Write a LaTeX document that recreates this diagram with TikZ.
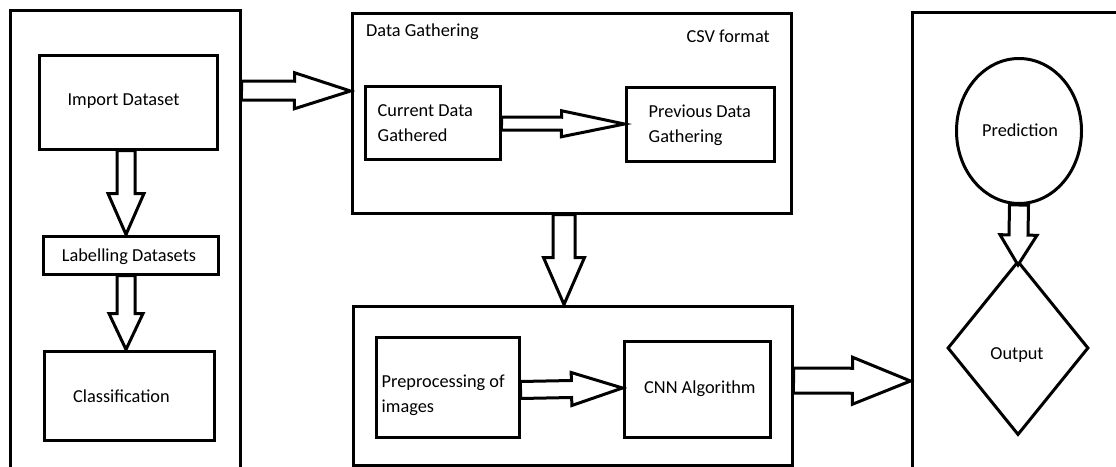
\documentclass[tikz,border=0pt]{standalone}
\usepackage{fontspec}
\setmainfont{Carlito}
\usetikzlibrary{calc,shapes.geometric}
\tikzset{
  box/.style={draw, line width=3pt, inner sep=0pt, minimum width=#1},
  txt/.style={inner sep=0pt, align=left, font=\fontsize{18.3}{25}\selectfont},
  hollow/.style={draw, line width=3pt, fill=white, line join=miter},
}
\newcommand\harr[5]{%
  \coordinate (hs) at (#1);
  \coordinate (he) at (#2);
  \coordinate (hb) at ($(he)!#5!(hs)$);
  \draw[hollow] ($(hs)!#3!90:(he)$) -- ($(hb)!#3!90:(he)$) -- ($(hb)!#4!90:(he)$) -- (he)
     -- ($(hb)!#4!-90:(he)$) -- ($(hb)!#3!-90:(he)$) -- ($(hs)!#3!-90:(he)$) -- cycle;}
\begin{document}
\begin{tikzpicture}[x=1pt,y=-1pt]
\fill[white] (0,0) rectangle (1116,466);
\useasboundingbox (0,0) rectangle (1116,466);
% outer boxes
\node[box=230pt, minimum height=465pt] (leftbox) at (125,242.5) {};
\node[box=439pt, minimum height=200pt] (gather) at (571.5,113) {};
\node[box=439pt, minimum height=159pt] (proc) at (572.5,385.5) {};
\node[box=213pt, minimum height=463pt] (rightbox) at (1018.5,243.5) {};
% left column
\node[box=178pt, minimum height=94pt] (import) at (128,102) {};
\node[txt] (importt) at (123.5,101.5) {Import Dataset};
\node[box=175pt, minimum height=38pt] (label) at (130.5,255) {};
\node[txt] (labelt) at (129,257) {Labelling Datasets};
\node[box=170pt, minimum height=89pt] (class) at (129,395.5) {};
\node[txt] (classt) at (121.5,396) {Classification};
% middle top
\node[txt, anchor=west] (dg) at (366,32) {Data Gathering};
\node[txt, anchor=east] (csv) at (770,36) {CSV format};
\node[box=135pt, minimum height=73pt] (cur) at (432.5,122.5) {};
\node[txt, anchor=west] (curt) at ($(cur.west)+(14,1)$) {Current Data\\Gathered};
\node[box=148pt, minimum height=74pt] (prev) at (700,124) {};
\node[txt, anchor=west] (prevt) at ($(prev.west)+(24,1)$) {Previous Data\\Gathering};
% middle bottom
\node[box=143pt, minimum height=100pt] (pre) at (447.5,387) {};
\node[txt, anchor=west] (pret) at ($(pre.west)+(7,8)$) {Preprocessing of\\images};
\node[box=146pt, minimum height=96pt] (cnn) at (697,389) {};
\node[txt, anchor=west] (cnnt) at (644,389) {CNN Algorithm};
% right column
\node[ellipse, draw, line width=3pt, inner sep=0pt, minimum width=125pt, minimum height=145pt] (pred) at (1019,131) {};
\node[txt] (predt) at (1020,130) {Prediction};
\node[diamond, draw, line width=3pt, inner sep=0pt, minimum width=141pt, minimum height=174pt] (out) at (1018,348) {};
\node[txt] (outt) at (1017,355) {Output};
% hollow arrows
\harr{leftbox.east |- 0,90.5}{gather.west |- 0,91}{9.5pt}{18pt}{56pt}
\harr{import.south -| 126,0}{label.north -| 126,0}{9pt}{18pt}{41pt}
\harr{label.south -| 126,0}{class.north -| 126,0}{9pt}{17pt}{36pt}
\harr{cur.east |- 0,123.5}{prev.west |- 0,124}{6.5pt}{13pt}{63pt}
\harr{gather.south -| 564,0}{proc.north -| 564,0}{11pt}{20.5pt}{47pt}
\harr{pre.east |- 0,390}{cnn.west |- 0,388}{8.5pt}{16.5pt}{51pt}
\harr{proc.east |- 0,380.5}{rightbox.west |- 0,381}{12.5pt}{23.5pt}{58pt}
\harr{pred.south}{1018,265}{9.5pt}{18.5pt}{30pt}
\end{tikzpicture}
\end{document}
